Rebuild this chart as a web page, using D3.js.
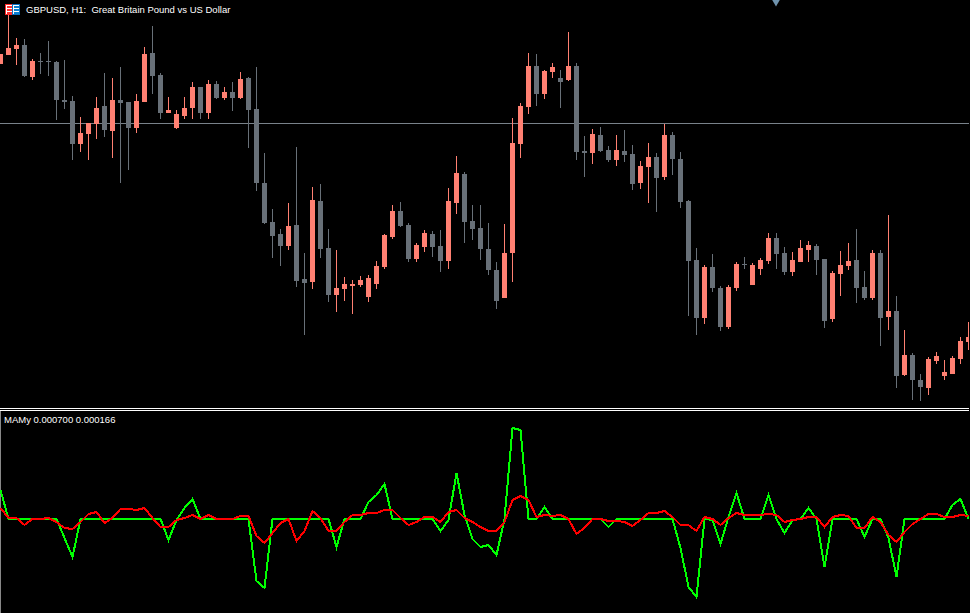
<!DOCTYPE html>
<html><head><meta charset="utf-8">
<script src="https://cdn.jsdelivr.net/npm/d3@7"></script>
<style>html,body{margin:0;padding:0;background:#000;overflow:hidden}svg{display:block}text{font-family:"Liberation Sans",sans-serif;font-size:9.5px;fill:#fff}</style>
</head><body><div id="c"></div>
<script>
const symbolTitle = "GBPUSD, H1:  Great Britain Pound vs US Dollar";
const indicatorTitle = "MAMy 0.000700 0.000166";
// candle values, in points above a base price
const opens = [936,945,951,955,923,939,939,938,900,899,856,866,876,894,869,900,898,872,898,947,925,887,872,884,892,913,887,916,902,908,902,922,891,817,778,766,754,775,721,718,799,752,705,711,714,715,703,716,733,763,789,775,741,753,766,754,739,797,826,779,772,751,730,702,747,856,893,934,906,928,922,920,934,849,847,865,850,840,849,846,817,833,843,823,865,841,799,740,682,733,712,673,712,736,715,731,739,762,747,728,738,750,754,741,681,726,734,740,713,702,747,683,689,625,645,620,612,639,624,626,641,658];
const highs = [946,985,962,961,941,947,959,939,940,904,883,877,903,927,922,933,898,906,953,974,927,903,890,903,918,913,920,919,913,918,928,923,933,847,791,771,797,853,747,813,816,771,750,723,720,724,725,739,766,795,798,777,757,770,769,770,812,844,828,795,795,777,738,776,882,897,947,946,930,937,930,968,937,864,871,873,854,865,870,855,839,857,847,876,868,848,800,752,735,746,714,715,738,743,737,742,767,767,753,748,760,759,756,741,729,749,757,771,729,750,750,785,704,670,647,626,643,648,640,644,663,678];
const lows = [936,945,935,923,920,926,924,880,891,840,848,840,861,863,842,817,830,867,898,906,881,887,871,881,881,881,881,901,900,889,901,852,809,776,742,734,750,713,665,711,742,698,688,699,686,713,698,711,731,761,773,738,738,748,743,728,731,786,757,760,740,725,691,702,718,842,886,894,901,922,892,919,840,823,836,848,838,834,838,810,811,797,788,820,825,792,684,665,676,708,669,671,709,731,715,725,736,731,725,724,738,738,725,672,678,704,730,697,700,700,654,670,612,624,600,599,605,636,620,626,636,650];
const closes = [946,952,955,924,939,938,938,900,898,856,867,877,892,870,900,897,872,899,946,924,887,890,886,892,913,887,916,902,908,902,921,890,817,777,764,754,774,719,717,800,751,705,712,716,716,720,722,734,765,789,774,741,755,767,753,739,799,827,778,771,751,730,699,747,857,894,934,906,929,933,918,934,848,847,866,849,840,850,845,816,834,843,822,865,841,798,739,682,733,712,673,713,736,735,735,740,762,746,728,740,752,755,740,679,727,735,739,712,702,747,682,689,624,645,620,613,641,644,628,642,659,663];
// indicator values
const greenLine = [29,0,0,0,0,0,0,0,-19,-38,0,0,0,0,0,0,0,0,0,0,0,-21,-1,11,20,0,0,0,0,0,0,0,-62,-69,0,0,0,0,0,0,0,0,-28,0,0,0,17,24,35,0,0,0,0,0,0,-12,-1,46,4,-20,-28,-26,-36,0,91,89,0,0,12,0,0,0,0,0,0,0,-8,0,0,0,0,0,0,0,0,-29,-68,-78,0,-1,-25,2,26,0,0,0,24,0,-14,-1,0,11,0,-48,0,0,0,0,-18,0,0,-19,-58,0,0,0,0,0,0,14,20,0];
const redLine = [11,1,1,-6,0,0,1,-3,-9,-10,-3,5,7,-4,1,10,10,9,11,1,-8,-8,-1,1,4,0,4,0,0,0,3,3,-17,-24,-14,-4,0,-22,-12,8,1,-12,-12,-3,4,4,6,6,9,9,1,-6,-3,2,2,-3,7,9,1,-3,-8,-12,-12,-3,19,23,19,2,4,3,4,0,-15,-9,0,0,-2,-2,-3,-7,-1,6,6,8,2,-6,-6,-12,2,0,-6,1,6,4,4,4,5,4,-3,-1,0,2,2,-8,2,4,3,-9,-9,2,-3,-16,-23,-13,-5,0,5,5,2,2,4,3];
const bidPrice = 877;

const W = 969, H = 613;
const upColor = "#ff8072", downColor = "#687078", bidColor = "#79828a";
const svg = d3.select("#c").append("svg").attr("width", W).attr("height", H).style("background", "#000").attr("shape-rendering", "crispEdges");

const x = d3.scaleLinear().domain([0, opens.length - 1]).range([0.5, 968.5]);
const yP = d3.scaleLinear().domain([1000, 592]).range([0, 408]);
const yI = d3.scaleLinear().domain([108, -94]).range([411, 613]);

// main pane
svg.append("line").attr("x1", 0).attr("x2", W).attr("y1", yP(bidPrice) + .5).attr("y2", yP(bidPrice) + .5).attr("stroke", bidColor);

const idx = d3.range(opens.length);
const col = i => closes[i] > opens[i] ? upColor : downColor;
const g = svg.append("g");
g.selectAll("line.w").data(idx).join("line").attr("class", "w")
  .attr("x1", i => x(i)).attr("x2", i => x(i))
  .attr("y1", i => yP(highs[i])).attr("y2", i => yP(lows[i]))
  .attr("stroke", col).attr("stroke-width", 1);
g.selectAll("rect.b").data(idx).join("rect").attr("class", "b")
  .attr("x", i => x(i) - 2.5).attr("width", 5)
  .attr("y", i => yP(Math.max(opens[i], closes[i])))
  .attr("height", i => Math.max(1, Math.abs(yP(opens[i]) - yP(closes[i]))))
  .attr("fill", col);

// pane separator
svg.append("rect").attr("x", 0).attr("y", 408).attr("width", W).attr("height", 1).attr("fill", "#fff");
svg.append("rect").attr("x", 0).attr("y", 410).attr("width", W).attr("height", 1).attr("fill", "#fff");
svg.append("rect").attr("x", 0).attr("y", 411).attr("width", 1).attr("height", H - 411).attr("fill", "#888");

// indicator
const line = d3.line().x((d, i) => x(i)).y(d => yI(d));
svg.append("path").datum(greenLine).attr("d", line).attr("fill", "none").attr("stroke", "#00ff00").attr("stroke-width", 2);
svg.append("path").datum(redLine).attr("d", line).attr("fill", "none").attr("stroke", "#ff0000").attr("stroke-width", 2);

// top marker
svg.append("path").attr("d", d3.symbol(d3.symbolDiamond, 50)()).attr("transform", "translate(776,0)").attr("fill", "#6f93ad").attr("shape-rendering", "auto");

// title icon
const icon = svg.append("g");
icon.append("rect").attr("x", 5).attr("y", 4).attr("width", 15).attr("height", 11).attr("fill", "#fff");
icon.append("rect").attr("x", 5.5).attr("y", 4.5).attr("width", 7).attr("height", 10).attr("fill", "none").attr("stroke", "#ff2a2a");
icon.append("rect").attr("x", 12.5).attr("y", 4.5).attr("width", 7).attr("height", 10).attr("fill", "none").attr("stroke", "#0a6fc0");
[6, 9, 12].forEach(yy => {
  icon.append("rect").attr("x", 7).attr("y", yy).attr("width", 5).attr("height", 1.5).attr("fill", "#ff3030");
  icon.append("rect").attr("x", 14).attr("y", yy).attr("width", 5).attr("height", 1.5).attr("fill", "#0a80d0");
});

svg.append("text").attr("x", 26).attr("y", 12.5).attr("xml:space", "preserve").style("white-space", "pre").text(symbolTitle);
svg.append("text").attr("x", 4).attr("y", 423).text(indicatorTitle);
</script></body></html>
